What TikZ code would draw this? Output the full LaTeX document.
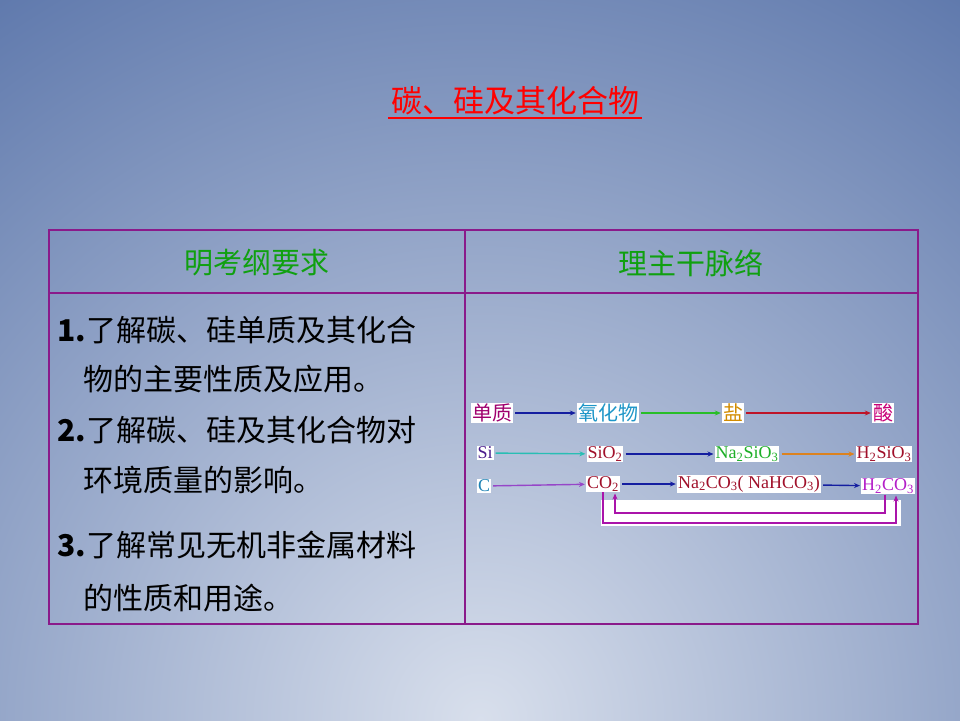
\documentclass[tikz,border=0pt]{standalone}
\usepackage{fontspec}
\setmainfont{Liberation Serif}
\newfontfamily\cjk{Noto Sans CJK SC}
\usetikzlibrary{arrows.meta,positioning}
\definecolor{tblline}{HTML}{8A1A8A}
\definecolor{hdgreen}{HTML}{10A010}
\definecolor{bgout}{HTML}{5E78AC}
\definecolor{bgin}{HTML}{D8DFEC}
\definecolor{cdz}{RGB}{160,0,110}
\definecolor{cyhw}{RGB}{30,150,200}
\definecolor{cyan}{RGB}{210,140,0}
\definecolor{csuan}{RGB}{200,0,120}
\definecolor{csi}{RGB}{75,28,140}
\definecolor{cred}{RGB}{160,16,42}
\definecolor{cgreen}{RGB}{30,175,40}
\definecolor{cc}{RGB}{30,130,180}
\definecolor{ch2co3}{RGB}{180,30,200}
\definecolor{anavy}{RGB}{20,30,160}
\definecolor{agreen}{RGB}{40,190,40}
\definecolor{ared}{RGB}{190,20,40}
\definecolor{ateal}{RGB}{40,190,180}
\definecolor{aorange}{RGB}{220,130,30}
\definecolor{aviolet}{RGB}{150,70,200}
\definecolor{apurple}{RGB}{170,20,170}
\tikzset{
  chem/.style={fill=white,inner sep=1pt,font=\fontsize{18}{18}\selectfont},
  word/.style={fill=white,inner sep=1pt,font=\cjk\fontsize{20}{20}\selectfont},
  flow/.style={draw=#1,line width=1.4pt,-{Stealth[length=6pt,width=5pt]},shorten <=2pt,shorten >=1pt},
  lefttext/.style={anchor=west,font=\cjk\fontsize{30}{30}\selectfont},
}
\begin{document}
\begin{tikzpicture}[x=1pt,y=-1pt]
  \begin{scope}
    \clip (0,0) rectangle (960,720);
    \shade[outer color=bgout,inner color=bgin] (-400,-160) rectangle (1360,1600);
  \end{scope}
  \useasboundingbox (0,0) rectangle (960,720);
  % title
  \node[font=\cjk\fontsize{31}{31}\selectfont,text=red] (title) at (515,101) {碳、硅及其化合物};
  \draw[red,line width=1.5pt] (388,118) -- (642,118);
  % table
  \draw[tblline,line width=1.2pt] (49,230) rectangle (918,624);
  \draw[tblline,line width=1.2pt] (49,293) -- (918,293) (465,230) -- (465,624);
  \node[font=\cjk\fontsize{29}{29}\selectfont,text=hdgreen] (hleft) at (257,263) {明考纲要求};
  \node[font=\cjk\fontsize{29}{29}\selectfont,text=hdgreen] (hright) at (691,263) {理主干脉络};
  \node[lefttext] (l1) at (54,330) {\textbf{1.}了解碳、硅单质及其化合};
  \node[lefttext] (l2) at (80,379) {物的主要性质及应用。};
  \node[lefttext] (l3) at (54,430) {\textbf{2.}了解碳、硅及其化合物对};
  \node[lefttext] (l4) at (80,480) {环境质量的影响。};
  \node[lefttext] (l5) at (54,545) {\textbf{3.}了解常见无机非金属材料};
  \node[lefttext] (l6) at (80,598) {的性质和用途。};
  % flow chart
  \fill[white] (601,500) rectangle (901,526);
  \node[word,text=cdz] (dz) at (492,413) {单质};
  \node[word,text=cyhw] (yhw) at (608,413) {氧化物};
  \node[word,text=cyan] (yan) at (733,413) {盐};
  \node[word,text=csuan] (suan) at (883,413) {酸};
  \node[chem,text=csi] (si) at (485,453) {Si};
  \node[chem,text=cred] (sio2) at (605,454) {SiO\textsubscript{2}};
  \node[chem,text=cgreen] (na2sio3) at (747,454) {Na\textsubscript{2}SiO\textsubscript{3}};
  \node[chem,text=cred] (h2sio3) at (884,454) {H\textsubscript{2}SiO\textsubscript{3}};
  \node[chem,text=cc] (c) at (484,486) {C};
  \node[chem,text=cred] (co2) at (603,484) {CO\textsubscript{2}};
  \node[chem,text=cred] (na2co3) at (749,484) {Na\textsubscript{2}CO\textsubscript{3}( NaHCO\textsubscript{3})};
  \node[chem,text=ch2co3] (h2co3) at (888,486) {H\textsubscript{2}CO\textsubscript{3}};
  \draw[flow=anavy] (dz) -- (yhw);
  \draw[flow=agreen] (yhw) -- (yan);
  \draw[flow=ared] (yan) -- (suan);
  \draw[flow=ateal] (si) -- (sio2);
  \draw[flow=anavy] (sio2) -- (na2sio3);
  \draw[flow=aorange] (na2sio3) -- (h2sio3);
  \draw[flow=aviolet] (c) -- (co2);
  \draw[flow=anavy] (co2) -- (na2co3);
  \draw[flow=anavy] (na2co3) -- (h2co3);
  \draw[flow=apurple,shorten <=0pt] (h2co3.south -| 885,0) -- (885,513) -- (615,513) -- (co2.south -| 615,0);
  \draw[flow=apurple,shorten <=0pt] (co2.south -| 603,0) -- (603,523) -- (896,523) -- (h2co3.south -| 896,0);
\end{tikzpicture}
\end{document}
